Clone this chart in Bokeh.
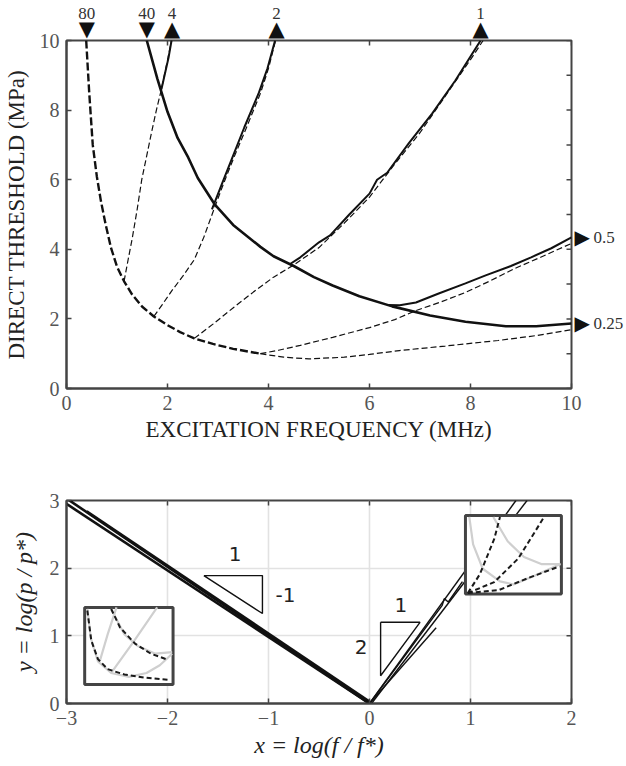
import math
from bokeh.plotting import figure
from bokeh.layouts import column
from bokeh.models import LinearAxis, FixedTicker, Range1d
from bokeh.core.properties import value
from bokeh.embed import file_html
from bokeh.resources import INLINE

# ---------------- upper panel: direct threshold vs excitation frequency ----------------
# low-frequency envelope (heavy dashed)
env_f = [0.39, 0.45, 0.52, 0.60, 0.68, 0.77, 0.88, 1.00, 1.14, 1.30, 1.50, 1.73, 2.00, 2.25, 2.53, 2.90, 3.30, 3.84]
env_p = [10.0, 8.5, 7.0, 6.1, 5.4, 4.75, 4.05, 3.5, 3.08, 2.70, 2.35, 2.07, 1.82, 1.62, 1.44, 1.28, 1.14, 1.00]

# asymptotic (thin dashed) branches
d4_f = [1.14, 1.22, 1.30, 1.40, 1.49, 1.59, 1.69, 1.78, 1.88, 1.98, 2.08]
d4_p = [3.08, 3.70, 4.30, 5.15, 6.00, 6.70, 7.40, 8.00, 8.60, 9.30, 10.0]
d2_f = [1.73, 1.90, 2.08, 2.30, 2.53, 2.72, 2.92, 3.10, 3.31, 3.55, 3.84, 4.00, 4.14]
d2_p = [2.07, 2.42, 2.80, 3.22, 3.70, 4.35, 5.15, 5.85, 6.62, 7.45, 8.48, 9.20, 10.0]
d1_f = [2.53, 2.90, 3.31, 3.70, 4.10, 4.50, 5.00, 5.50, 6.00, 6.50, 7.00, 7.50, 8.00, 8.25]
d1_p = [1.44, 1.85, 2.33, 2.77, 3.20, 3.55, 4.05, 4.75, 5.50, 6.45, 7.35, 8.40, 9.45, 10.0]
d05_f = [3.84, 4.20, 4.63, 5.27, 6.00, 6.50, 6.92, 7.40, 7.90, 8.40, 8.88, 9.40, 10.0]
d05_p = [1.00, 1.10, 1.24, 1.47, 1.75, 1.98, 2.24, 2.48, 2.76, 3.10, 3.45, 3.78, 4.17]
d025_f = [3.84, 4.30, 4.80, 5.50, 6.00, 6.59, 7.50, 8.55, 9.30, 10.0]
d025_p = [1.00, 0.90, 0.85, 0.90, 0.98, 1.09, 1.22, 1.38, 1.52, 1.69]

# full-model thresholds (solid)
s40_f = [1.59, 1.80, 2.00, 2.20, 2.41, 2.60, 2.93, 3.30, 3.84, 4.10, 4.50, 4.90, 5.27, 5.80, 6.45, 7.20, 7.90, 8.70, 9.30, 10.0]
s40_p = [10.0, 8.9, 7.95, 7.2, 6.64, 6.05, 5.3, 4.7, 4.07, 3.8, 3.52, 3.2, 2.96, 2.65, 2.36, 2.10, 1.92, 1.79, 1.79, 1.87]
s4_f = [1.88, 1.95, 2.02, 2.08]
s4_p = [8.6, 9.05, 9.5, 10.0]
s2_f = [2.88, 3.07, 3.28, 3.52, 3.81, 3.98, 4.13]
s2_p = [5.15, 5.85, 6.62, 7.5, 8.5, 9.2, 10.0]
s1_f = [4.42, 4.63, 5.00, 5.22, 5.60, 6.00, 6.15, 6.35, 6.78, 7.24, 7.70, 8.20]
s1_p = [3.57, 3.77, 4.20, 4.40, 5.00, 5.60, 6.00, 6.20, 7.05, 7.90, 8.85, 10.0]
s05_f = [6.35, 6.60, 6.92, 7.37, 7.90, 8.30, 8.80, 9.20, 9.60, 10.0]
s05_p = [2.40, 2.39, 2.47, 2.73, 3.02, 3.25, 3.52, 3.77, 4.03, 4.34]

# bubble-size markers
top_mark_f = [0.40, 1.59, 2.09, 4.16, 8.20]
top_mark_txt = ["80", "40", "4", "2", "1"]
top_mark_dir = ["down", "down", "up", "up", "up"]
right_mark_p = [4.34, 1.87]
right_mark_txt = ["0.5", "0.25"]

x_ticks_top = [0, 2, 4, 6, 8, 10]
y_ticks_left = [0, 2, 4, 6, 8, 10]
y_ticks_right = list(range(0, 11))

SERIF = "Liberation Serif"
AXIS = "#444444"
INK = "#111111"


def style_axis(ax, ticks, size="20px"):
    ax.ticker = FixedTicker(ticks=ticks)
    ax.axis_line_color = AXIS
    ax.axis_line_width = 2
    ax.major_tick_line_color = AXIS
    ax.major_tick_line_width = 1.5
    ax.major_tick_in = 5
    ax.major_tick_out = 0
    ax.minor_tick_line_color = None
    ax.major_label_text_font = SERIF
    ax.major_label_text_color = "#555555"
    ax.major_label_text_font_size = size
    ax.major_label_standoff = 7
    ax.axis_label_text_font = SERIF
    ax.axis_label_text_font_style = "normal"
    ax.axis_label_text_color = "#222222"
    ax.axis_label_text_font_size = "23px"


def marker_axis(ticks, labels, font, size, color, standoff):
    """Label-only axis used to place the size markers outside the frame."""
    ax = LinearAxis(ticker=FixedTicker(ticks=ticks),
                    major_label_overrides={t: s for t, s in zip(ticks, labels)})
    ax.axis_line_color = None
    ax.major_tick_line_color = None
    ax.minor_tick_line_color = None
    ax.major_tick_in = 0
    ax.major_tick_out = 0
    ax.major_label_text_font = font
    ax.major_label_text_font_size = size
    ax.major_label_text_color = color
    ax.major_label_standoff = standoff
    return ax


def box_ticks(p, x_ticks, y_ticks):
    """Inward ticks on the top and right edges of the frame."""
    xr, yr = p.x_range, p.y_range
    p.scatter(x=x_ticks, y=[yr.end] * len(x_ticks), marker="dash", size=10, angle=math.pi / 2,
              line_color=AXIS, line_width=1.5)
    p.scatter(x=[xr.end] * len(y_ticks), y=y_ticks, marker="dash", size=10,
              line_color=AXIS, line_width=1.5)


top = figure(width=626, height=452, x_range=Range1d(0, 10), y_range=Range1d(0, 10),
             output_backend="svg", toolbar_location=None,
             min_border_left=64, min_border_right=52, min_border_top=40, min_border_bottom=64)
top.grid.grid_line_color = None
top.outline_line_color = AXIS
top.outline_line_width = 2
style_axis(top.xaxis[0], x_ticks_top)
style_axis(top.yaxis[0], y_ticks_left)
top.xaxis[0].axis_label = "EXCITATION FREQUENCY (MHz)"
top.xaxis[0].axis_label_standoff = 4
top.yaxis[0].axis_label = "DIRECT THRESHOLD (MPa)"
top.yaxis[0].axis_label_standoff = 8

top.add_layout(marker_axis(top_mark_f, ["\u25BC" if d == "down" else "\u25B2" for d in top_mark_dir],
                           "DejaVu Sans", "21px", INK, 0), "above")
top.add_layout(marker_axis(top_mark_f, top_mark_txt, SERIF, "17px", "#333333", -5), "above")
top.add_layout(marker_axis(right_mark_p, ["\u25B6"] * len(right_mark_p),
                           "DejaVu Sans", "20px", INK, 3), "right")
top.add_layout(marker_axis(right_mark_p, right_mark_txt, SERIF, "17px", "#333333", 1), "right")

box_ticks(top, x_ticks_top, y_ticks_right)

# thin dashed asymptotes
for xs, ys in [(d4_f, d4_p), (d2_f, d2_p), (d1_f, d1_p), (d05_f, d05_p), (d025_f, d025_p)]:
    top.line(xs, ys, line_color=INK, line_width=1.2, line_dash="6 3")
# heavy dashed envelope
top.line(env_f, env_p, line_color=INK, line_width=2.4, line_dash="8 3")
# solid full-model curves
top.line(s40_f, s40_p, line_color=INK, line_width=2.6)
for xs, ys in [(s4_f, s4_p), (s2_f, s2_p), (s1_f, s1_p), (s05_f, s05_p)]:
    top.line(xs, ys, line_color=INK, line_width=2.0)

# ---------------- lower panel: normalised log-log view ----------------
desc_x = [[-3.0, 0.0], [-3.0, 0.0], [-2.8, 0.0]]
desc_y = [[3.03, 0.0], [2.95, 0.0], [2.84, 0.03]]
asc_x = [[0.0, 1.45], [0.02, 1.56], [0.0, 0.66], [0.0, 0.72, 0.74, 0.78, 0.92]]
asc_y = [[0.0, 3.0], [0.0, 3.0], [0.0, 1.12], [0.0, 1.45, 1.55, 1.50, 1.80]]

# slope triangles and their labels
tri_a_x = [-1.64, -1.06, -1.06, -1.64]
tri_a_y = [1.89, 1.89, 1.33, 1.89]
tri_b_x = [0.11, 0.50, 0.11, 0.11]
tri_b_y = [1.20, 1.20, 0.41, 1.20]
slope_txt = ["1", "-1", "1", "2"]
slope_x = [-1.33, -0.93, 0.31, -0.02]
slope_y = [2.21, 1.60, 1.45, 0.84]
slope_align = ["center", "left", "center", "right"]

# inset sketches (unit-box coordinates)
inL_grey = [
    ([0.03, 0.07, 0.15, 0.30, 0.50, 0.70, 0.85, 0.99], [0.98, 0.60, 0.30, 0.15, 0.10, 0.15, 0.25, 0.40]),
    ([0.17, 0.26, 0.36], [0.30, 0.65, 1.00]),
    ([0.30, 0.55, 0.82], [0.15, 0.55, 1.00]),
    ([0.30, 0.45, 0.60, 0.80, 0.99], [0.98, 0.65, 0.50, 0.40, 0.42]),
]
inL_dash = [
    ([0.03, 0.075, 0.15, 0.26, 0.45, 0.68, 0.96], [0.96, 0.57, 0.33, 0.20, 0.13, 0.09, 0.06]),
    ([0.30, 0.40, 0.57, 0.75, 0.92], [0.98, 0.74, 0.53, 0.40, 0.33]),
]
inR_grey = [
    ([0.04, 0.08, 0.18, 0.36, 0.50, 0.72, 0.99], [0.98, 0.63, 0.32, 0.16, 0.12, 0.23, 0.38]),
    ([0.29, 0.44, 0.61, 0.79, 0.99], [0.98, 0.67, 0.47, 0.38, 0.38]),
]
inR_dash = [
    ([0.025, 0.15, 0.30, 0.36], [0.01, 0.25, 0.70, 0.98]),
    ([0.025, 0.30, 0.55, 0.82], [0.01, 0.15, 0.45, 0.98]),
    ([0.025, 0.35, 0.65, 0.98], [0.01, 0.05, 0.20, 0.35]),
]
inset_left_box = (-2.82, -1.945, 0.28, 1.42)
inset_right_box = (0.95, 1.90, 1.62, 2.78)

x_ticks_bot = [-3, -2, -1, 0, 1, 2]
y_ticks_bot = [0, 1, 2, 3]

bot = figure(width=626, height=314, x_range=Range1d(-3, 2), y_range=Range1d(0, 3),
             output_backend="svg", toolbar_location=None,
             min_border_left=65, min_border_right=52, min_border_top=48, min_border_bottom=63)
bot.outline_line_color = AXIS
bot.outline_line_width = 2
style_axis(bot.xaxis[0], x_ticks_bot)
style_axis(bot.yaxis[0], y_ticks_bot)
bot.xaxis[0].axis_label = "x = log(f / f*)"
bot.xaxis[0].axis_label_text_font_style = "italic"
bot.xaxis[0].axis_label_text_font_size = "24px"
bot.xaxis[0].axis_label_standoff = 4
bot.yaxis[0].axis_label = "y = log(p / p*)"
bot.yaxis[0].axis_label_text_font_style = "italic"
bot.yaxis[0].axis_label_text_font_size = "24px"
bot.yaxis[0].axis_label_standoff = 10
bot.xgrid.ticker = FixedTicker(ticks=x_ticks_bot)
bot.ygrid.ticker = FixedTicker(ticks=y_ticks_bot)
bot.grid.grid_line_color = "#e2e2e2"
bot.grid.grid_line_width = 1.6
box_ticks(bot, x_ticks_bot, y_ticks_bot)

for xs, ys in zip(desc_x, desc_y):
    bot.line(xs, ys, line_color=INK, line_width=2.6)
for xs, ys in zip(asc_x, asc_y):
    bot.line(xs, ys, line_color=INK, line_width=1.4)

bot.line(tri_a_x, tri_a_y, line_color=INK, line_width=1.4)
bot.line(tri_b_x, tri_b_y, line_color=INK, line_width=1.4)
for t, xv, yv, al in zip(slope_txt, slope_x, slope_y, slope_align):
    bot.text(x=[xv], y=[yv], text=[t], text_font=value("DejaVu Sans"), text_font_size="20px",
             text_color="#222222", text_align=al, text_baseline="middle")


def draw_inset(box, grey, dashed):
    x0, x1, y0, y1 = box
    bot.quad(left=[x0], right=[x1], bottom=[y0], top=[y1], fill_color="white",
             line_color=AXIS, line_width=3)
    for us, vs in grey:
        bot.line([x0 + u * (x1 - x0) for u in us], [y0 + v * (y1 - y0) for v in vs],
                 line_color="#cfcfcf", line_width=2.2)
    for us, vs in dashed:
        bot.line([x0 + u * (x1 - x0) for u in us], [y0 + v * (y1 - y0) for v in vs],
                 line_color="#1a1a1a", line_width=2.0, line_dash="5 3")


draw_inset(inset_left_box, inL_grey, inL_dash)
draw_inset(inset_right_box, inR_grey, inR_dash)

layout = column(top, bot, spacing=0)
open("out.html", "w").write(file_html(layout, INLINE))
